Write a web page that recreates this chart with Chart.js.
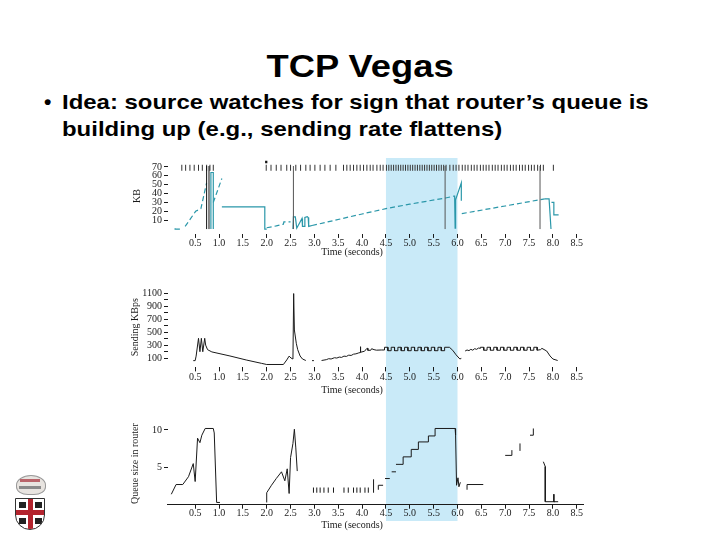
<!DOCTYPE html>
<html>
<head>
<meta charset="utf-8">
<script src="https://cdn.jsdelivr.net/npm/chart.js@4.4.1/dist/chart.umd.min.js"></script>
<style>
  html, body { margin:0; padding:0; background:#fff; }
  body { width:720px; height:540px; position:relative; overflow:hidden; }
  canvas { position:absolute; }
  .txt { position:absolute; font-family:'Liberation Sans', Arial, sans-serif; font-weight:bold; color:#000; white-space:nowrap; }
</style>
</head>
<body>
<div class="txt" style="left:0;width:720px;top:49.6px;text-align:center;font-size:32px;line-height:32px;transform:scaleX(1.135);transform-origin:359.5px 0;">TCP Vegas</div>
<div class="txt" style="left:44px;top:87.5px;font-size:21px;line-height:27px;">•</div>
<div class="txt" style="left:62px;top:87.5px;font-size:21px;line-height:27px;transform:scaleX(1.14);transform-origin:0 0;">Idea: source watches for sign that router’s queue is<br>building up (e.g., sending rate flattens)</div>

<div id="logo" style="position:absolute;left:13px;top:474px;width:34px;height:58px;">
  <div style="position:absolute;left:3px;top:1px;width:28px;height:18px;border-radius:50% 50% 40% 40%;background:#e8e4e0;border:1px solid #999;"></div>
  <div style="position:absolute;left:7px;top:5px;width:20px;height:3px;background:#b9646a;"></div>
  <div style="position:absolute;left:6px;top:12px;width:22px;height:3px;background:#8a8a8a;"></div>
  <div style="position:absolute;left:2px;top:24px;width:28px;height:30px;border:1.5px solid #333;border-radius:0 0 15px 15px;background:#fff;overflow:hidden;">
    <div style="position:absolute;left:12px;top:0;width:5px;height:32px;background:#b3242e;"></div>
    <div style="position:absolute;left:0;top:11px;width:30px;height:5px;background:#b3242e;"></div>
    <div style="position:absolute;left:3px;top:3px;width:7px;height:6px;background:#222;"></div>
    <div style="position:absolute;left:19px;top:3px;width:7px;height:6px;background:#222;"></div>
    <div style="position:absolute;left:3px;top:19px;width:7px;height:6px;background:#222;"></div>
    <div style="position:absolute;left:19px;top:19px;width:7px;height:6px;background:#222;"></div>
  </div>
</div>

<canvas id="cTop" width="480" height="112" style="left:120px;top:150px;"></canvas>
<canvas id="cMid" width="480" height="133" style="left:120px;top:262px;"></canvas>
<canvas id="cBot" width="480" height="145" style="left:120px;top:395px;"></canvas>

<script>
// ---------------- DATA ----------------
const xTickValues = [0.5,1.0,1.5,2.0,2.5,3.0,3.5,4.0,4.5,5.0,5.5,6.0,6.5,7.0,7.5,8.0,8.5];
const xTitleText = 'Time (seconds)';
const bandRange = [4.5, 6.0];

// Top panel (KB)
const kbTicks = [10,20,30,40,50,60,70];
const kbTitle = 'KB';
const kbMarkLevel = 69;
const kbMarkX = [0.22,0.30,0.39,0.48,0.57,0.65,0.74,0.81,0.88,
  1.99,2.09,2.20,2.30,2.42,2.50,2.61,2.71,2.82,2.91,3.01,3.12,3.22,3.33,3.45,
  3.61,3.68,3.75,3.82,3.89,3.96,4.03,4.10,4.17,4.23,4.31,4.38,4.44,
  4.51,4.56,4.61,4.66,4.71,4.76,4.81,4.86,4.91,4.96,5.01,5.06,5.11,5.16,5.21,5.26,5.31,5.36,5.41,5.46,5.51,5.56,5.61,5.66,5.71,5.76,
  5.84,5.91,5.97,6.03,6.10,6.16,6.22,6.29,6.35,6.41,6.48,6.54,6.60,6.66,6.73,6.79,6.85,6.92,6.98,7.04,7.11,7.17,7.23,7.30,7.36,7.42,7.49,7.55,7.61,7.68,7.74,7.80,
  8.01];
const kbDot = [[1.99, 75.5]];
const kbLineTop = 71;
const kbDarkLinesX = [0.74, 0.79];
const kbGrayLinesX = [2.56, 5.74, 7.73];
const kbSolid = [[0.08,1],[0.08,0],[0.18,0],[0.18,null],
  [0.83,0],[0.83,63.7],[0.88,63.7],[0.88,0],[0.88,null],
  [1.06,25],[1.96,25],[1.96,0],[2.0,0],[2.0,null],
  [2.55,0],[2.56,13.7],[2.60,13.7],[2.63,1],[2.70,8],[2.74,12],[2.75,3],[2.80,3],[2.80,13],[2.85,14],[2.87,13],[2.88,3],[2.95,4],[2.95,null],
  [5.92,37],[5.94,37],[5.95,1],[5.96,33],[6.08,52],[6.08,32],[6.08,null],
  [7.83,34],[7.92,34],[7.96,0],[7.96,null],
  [7.97,30],[8.02,30],[8.02,16],[8.12,16]];
const kbDashed = [[0.29,3],[0.51,20],[0.62,23],[0.74,52],[0.74,null],
  [0.88,30],[1.06,57],[1.06,null],
  [2.0,1.5],[2.2,3.5],[2.35,5.5],[2.36,8],[2.5,8],[2.5,null],
  [2.95,4],[4.0,17],[4.5,23],[5.0,28],[5.75,35],[5.92,37],[5.92,null],
  [6.09,17.4],[7.0,26],[7.83,34]];

// Middle panel (Sending KBps)
const rateTicks = [100,200,300,400,500,600,700,800,900,1000,1100];
const rateLabels = [100,300,500,700,900,1100];
const rateTitle = 'Sending KBps';
const rate = [[0.46,60],[0.50,60],[0.52,130],[0.57,406],[0.60,198],[0.63,406],[0.66,198],[0.70,406],[0.72,300],[0.76,230],[0.85,195],
  [1.23,132],[1.57,70],[1.89,18],[2.00,0],[2.35,0],[2.42,70],[2.47,130],[2.51,100],[2.55,85],[2.565,1100],[2.58,535],[2.62,329],[2.65,230],[2.70,132],[2.75,85],[2.82,62],[2.82,null],
  [2.95,60],[2.99,60],[2.99,null],
  [3.15,62],[3.25,75],[3.30,90],[3.35,85],[3.42,105],[3.47,100],[3.52,115],[3.57,110],[3.62,130],[3.67,125],[3.72,145],[3.77,140],[3.82,160],[3.87,165],[3.93,180],
  [3.96,185],[3.965,276],[3.97,190],[4.05,205],[4.10,250],[4.12,250],[4.12,220],[4.18,220],[4.20,245],[4.25,230],[4.30,222],[4.40,225],
  [4.47,225],[4.47,267],[4.54,267],[4.54,214],[4.61,214],[4.61,267],[4.68,267],[4.68,214],[4.75,214],[4.75,267],[4.82,267],[4.82,214],
  [4.89,214],[4.89,267],[4.96,267],[4.96,214],[5.03,214],[5.03,267],[5.10,267],[5.10,214],[5.17,214],[5.17,267],[5.24,267],[5.24,214],
  [5.31,214],[5.31,267],[5.38,267],[5.38,214],[5.45,214],[5.45,267],[5.52,267],[5.52,214],[5.59,214],[5.59,267],[5.66,267],[5.66,214],
  [5.73,214],[5.73,267],[5.83,267],[5.90,220],[5.97,150],[6.05,85],[6.08,95],[6.08,null],
  [6.16,209],[6.20,225],[6.24,215],[6.28,235],[6.32,222],[6.36,245],[6.40,235],[6.44,255],[6.48,250],
  [6.48,267],[6.55,267],[6.55,221],[6.62,221],[6.62,267],[6.69,267],[6.69,221],[6.76,221],[6.76,267],[6.83,267],[6.83,221],
  [6.90,221],[6.90,267],[6.97,267],[6.97,221],[7.04,221],[7.04,267],[7.11,267],[7.11,221],[7.18,221],[7.18,267],[7.25,267],[7.25,221],
  [7.32,221],[7.32,267],[7.39,267],[7.39,221],[7.46,221],[7.46,267],[7.53,267],[7.53,221],[7.60,221],[7.60,267],[7.67,267],[7.67,221],
  [7.74,230],[7.77,250],[7.87,209],[7.94,132],[8.00,85],[8.10,62]];

// Bottom panel (Queue size in router)
const queueTicks = [5,10];
const queueTitle = 'Queue size in router';
const queue = [[0,1.4],[0.1,2.7],[0.24,2.7],[0.36,3.75],[0.46,5.5],[0.5,3.1],[0.55,8.9],[0.6,8.3],[0.64,9.3],[0.71,10.2],[0.88,10.2],[0.9,9.6],[0.95,0.3],[1.02,0.3],[1.02,null],
  [2.0,0.3],[2.0,1.6],[2.1,2.6],[2.2,3.5],[2.31,4.4],[2.38,3.2],[2.43,4.8],[2.47,1.5],[2.5,6.3],[2.55,8.2],[2.58,10.1],[2.61,7.6],[2.64,4.5],[2.64,null],
  [4.24,1.6],[4.24,3.4],[4.24,null],
  [4.34,2.0],[4.34,2.6],[4.44,2.6],[4.44,null],
  [4.48,3.5],[4.58,3.5],[4.58,null],[4.62,4.4],[4.71,4.4],[4.71,null],
  [4.71,5.4],[4.86,5.4],[4.86,6.4],[5.03,6.4],[5.03,7.4],[5.18,7.4],[5.18,8.4],[5.39,8.4],[5.39,9.2],[5.53,9.2],[5.53,10.2],[5.95,10.2],[5.96,9.3],[5.98,2.6],[6.01,3.6],[6.03,2.4],[6.06,3.0],[6.06,null],
  [6.2,2.0],[6.2,2.7],[6.54,2.7],[6.54,null],
  [7.0,6.6],[7.14,6.6],[7.14,7.3],[7.14,null],
  [7.31,7.2],[7.31,8.2],[7.31,null],
  [7.52,9.3],[7.59,9.3],[7.59,10.2],[7.59,null],
  [7.8,5.75],[7.84,5.1],[7.84,0.4],[8.04,0.4],[8.04,null],
  [8.02,1.4],[8.02,0.4],[8.11,0.4]];
const queueMarkX = [2.98,3.05,3.12,3.20,3.29,3.40,3.62,3.71,3.82,3.89,3.96,4.06,4.13];
const queueMarkRange = [1.6, 2.3];

// ---------------- RENDER ----------------
Chart.defaults.devicePixelRatio = 1;
const SERIF = "'Liberation Serif', 'DejaVu Serif', serif";
const INK = '#1a1a1a';
const TEAL = '#2a97a9';
const X_MIN = -0.08, X_MAX = 8.65;

function pts(pairs) { return pairs.map(p => ({x: p[0], y: p[1]})); }
function vsegs(xs, lo, hi) {
  const out = [];
  xs.forEach(x => { out.push({x, y: lo}, {x, y: hi}, {x, y: null}); });
  return out;
}

const bandPlugin = {
  id: 'band',
  beforeDraw(chart, args, o) {
    const xs = chart.scales.x, ctx = chart.ctx;
    const l = xs.getPixelForValue(bandRange[0]), r = xs.getPixelForValue(bandRange[1]);
    ctx.save();
    ctx.fillStyle = '#c9eaf8';
    ctx.fillRect(l, o.top, r - l, o.bottom - o.top);
    ctx.restore();
  }
};
const xTitlePlugin = {
  id: 'xtitle',
  afterDraw(chart, args, o) {
    const xs = chart.scales.x, ctx = chart.ctx;
    ctx.save();
    ctx.font = '10px ' + SERIF;
    ctx.fillStyle = INK;
    ctx.textAlign = 'center';
    ctx.textBaseline = 'alphabetic';
    ctx.fillText(xTitleText, xs.getPixelForValue(o.center), o.baseline);
    ctx.restore();
  }
};

function xScale(o) {
  return {
    type: 'linear', min: X_MIN, max: X_MAX,
    afterBuildTicks: s => { s.ticks = xTickValues.map(v => ({value: v})); },
    ticks: { callback: v => Number(v).toFixed(1), font: {family: SERIF, size: 10}, color: INK, padding: o.pad, maxRotation: 0, autoSkip: false },
    grid: { display: true, drawOnChartArea: false, drawTicks: true, tickLength: 4, color: INK, lineWidth: 1 },
    border: { display: o.border, color: INK, width: 1 },
    afterFit: s => { s.height = o.height; }
  };
}
function yScale(o) {
  return {
    type: 'linear', min: o.min, max: o.max,
    afterBuildTicks: s => { s.ticks = o.ticks.map(v => ({value: v})); },
    ticks: { callback: o.cb || (v => String(v)), font: {family: SERIF, size: 10}, color: INK, padding: 2, autoSkip: false },
    grid: { display: true, drawOnChartArea: false, drawTicks: true, tickLength: 3.5, color: INK, lineWidth: 1 },
    border: { display: false },
    title: { display: true, text: o.title, font: {family: SERIF, size: 10}, color: INK, padding: {top: o.tpad, bottom: 0} },
    afterFit: s => { s.width = 47.5; }
  };
}
function lineDs(data, color, width, dash) {
  return { data, borderColor: color, borderWidth: width, borderDash: dash || [], pointRadius: 0, fill: false, tension: 0, spanGaps: false };
}
function baseOptions(o) {
  return {
    responsive: false, animation: false, events: [],
    layout: { padding: { left: 0, right: 16.1, top: o.top, bottom: 0 } },
    plugins: { legend: {display: false}, tooltip: {enabled: false},
      band: { top: o.bandTop, bottom: o.bandBottom },
      xtitle: { center: 3.79, baseline: o.titleBase } },
    scales: { x: xScale(o.x), y: yScale(o.y) }
  };
}

// Top chart
new Chart(document.getElementById('cTop'), {
  type: 'line',
  data: { datasets: [
    lineDs(vsegs(kbDarkLinesX, 0, kbLineTop), '#111', 1),
    lineDs(vsegs(kbGrayLinesX, 0, kbLineTop), '#555', 1),
    lineDs(pts(kbSolid), TEAL, 1.2),
    lineDs(pts(kbDashed), TEAL, 1.2, [5, 3]),
    { data: kbMarkX.map(x => ({x, y: kbMarkLevel})), showLine: false, pointStyle: 'line', pointRotation: 90, pointRadius: 3, pointBorderWidth: 1, pointBorderColor: '#333', borderColor: '#333' },
    { data: pts(kbDot), showLine: false, pointStyle: 'rect', pointRadius: 1.6, pointBackgroundColor: '#111', pointBorderColor: '#111', pointBorderWidth: 0 }
  ]},
  options: baseOptions({ top: 7, bandTop: 8, bandBottom: 112, titleBase: 104.6,
    x: { pad: -1, border: false, height: 28.05 },
    y: { min: -5.5, max: 80, ticks: kbTicks, title: kbTitle, tpad: 11 } }),
  plugins: [bandPlugin, xTitlePlugin]
});

// Middle chart
new Chart(document.getElementById('cMid'), {
  type: 'line',
  data: { datasets: [ lineDs(pts(rate), INK, 1) ] },
  options: baseOptions({ top: 25.1, bandTop: 0, bandBottom: 133, titleBase: 130.6,
    x: { pad: 0, border: false, height: 27.6 },
    y: { min: -45, max: 1200, ticks: rateTicks, title: rateTitle, tpad: 9, cb: v => rateLabels.includes(v) ? String(v) : '' } }),
  plugins: [bandPlugin, xTitlePlugin]
});

// Bottom chart
new Chart(document.getElementById('cBot'), {
  type: 'line',
  data: { datasets: [
    lineDs(pts(queue), INK, 1),
    lineDs(vsegs(queueMarkX, queueMarkRange[0], queueMarkRange[1]), INK, 1)
  ]},
  options: baseOptions({ top: 27.5, bandTop: 0, bandBottom: 126, titleBase: 133,
    x: { pad: -1.5, border: true, height: 35.3 },
    y: { min: 0, max: 11, ticks: queueTicks, title: queueTitle, tpad: 9 } }),
  plugins: [bandPlugin, xTitlePlugin]
});
</script>
</body>
</html>
